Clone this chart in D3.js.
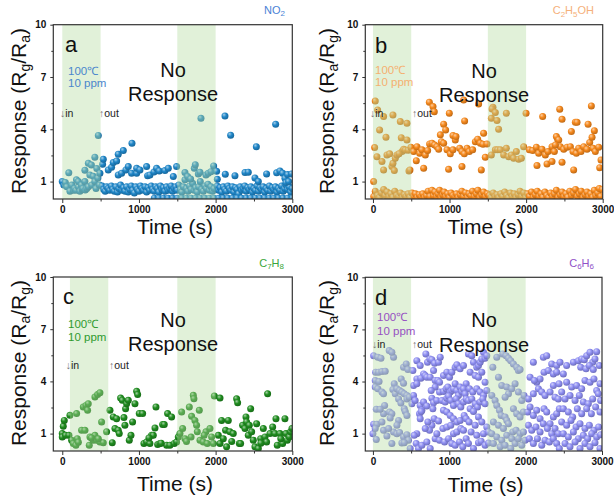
<!DOCTYPE html>
<html><head><meta charset="utf-8">
<script src="https://cdn.jsdelivr.net/npm/d3@7"></script>
<style>body{margin:0;background:#fff}svg{display:block}text{font-family:"Liberation Sans",Arial,sans-serif}</style>
</head><body><svg id="c" width="614" height="504"></svg>
<script>
// ---------- data ----------
const xTicks = [0, 1000, 2000, 3000];
const yTicks = [1, 4, 7, 10];
const shadeA = [[0, 500], [1500, 2000]];
const shadeB = [[0, 500], [1500, 2000]];
const shadeC = [[100, 600], [1500, 2000]];
const shadeD = [[0, 500], [1500, 2000]];

const dataA = [
[0,1.0],[20,0.8],[40,0.95],[60,0.7],[85,1.5],[100,0.45],[125,0.8],[145,0.5],[160,0.6],[180,0.5],[185,1.1],[210,0.7],[210,1.0],[230,0.45],[250,0.8],[260,0.55],[270,0.6],[295,1.0],[295,1.65],[300,0.52],[320,0.6],[340,2.05],[340,0.7],[360,1.38],[380,1.95],[385,0.8],[405,1.3],[425,2.4],[425,1.0],[440,0.6],[450,1.75],[465,1.2],[470,3.65],[485,0.8],
[520,0.75],[540,0.55],[560,0.45],[580,0.7],[600,0.6],[620,0.5],[640,0.75],[660,0.55],[680,0.45],[700,0.7],[720,0.4],[740,0.6],[760,0.8],[780,0.5],[800,0.65],[820,0.45],[840,0.7],[860,0.4],[880,0.55],[900,0.75],[920,0.5],[940,0.35],[960,0.7],[980,0.55],[1000,0.45],[1020,0.75],[1040,0.6],[1060,0.5],[1080,0.7],[1100,0.4],[1120,0.65],[1140,0.5],[1160,0.75],[1180,0.55],[1200,0.45],[1220,0.7],[1240,0.6],[1260,0.4],[1280,0.75],[1300,0.55],[1320,0.65],[1340,0.45],[1360,0.7],[1380,0.5],[1400,0.6],[1420,0.75],[1440,0.45],[1460,0.6],[1480,0.7],[1500,0.5],
[1520,0.8],[1540,0.55],[1560,0.4],[1580,0.7],[1600,1.1],[1620,0.6],[1640,0.45],[1660,0.75],[1680,0.55],[1700,0.9],[1720,0.5],[1740,0.65],[1760,0.4],[1780,0.7],[1800,1.0],[1820,0.55],[1840,0.45],[1860,0.75],[1880,0.6],[1900,0.85],[1920,0.5],[1940,0.7],[1960,0.45],[1980,0.6],
[2020,0.75],[2040,0.5],[2060,0.65],[2080,0.4],[2100,0.7],[2120,0.55],[2140,0.45],[2160,0.75],[2180,0.6],[2200,0.5],[2220,0.7],[2240,0.4],[2260,0.65],[2280,0.55],[2300,0.3],[2320,0.7],[2340,0.5],[2360,0.6],[2380,0.75],[2400,0.45],[2420,0.65],[2440,0.55],[2460,0.7],[2480,0.4],[2500,0.6],[2520,0.5],[2540,0.75],[2560,0.45],[2580,0.65],[2600,0.55],[2620,0.7],[2640,0.4],[2660,0.6],[2680,0.5],[2700,0.75],[2720,0.45],[2740,0.65],[2760,0.55],[2780,0.7],[2800,0.4],[2820,0.6],[2840,0.5],[2860,0.75],[2880,0.45],[2900,0.6],[2920,0.8],[2940,0.55],[2960,0.7],[2980,0.4],[3000,0.6],
[1200,0.05],[1260,0.05],[1320,0.05],[1380,0.05],[1440,0.05],[1500,0.05],[1560,0.05],[1620,0.05],[1680,0.05],[1740,0.05],[1800,0.05],[1860,0.05],[1920,0.05],[1980,0.05],[2040,0.05],[2100,0.05],[2160,0.05],[2220,0.05],[2280,0.05],[2340,0.05],[2400,0.05],[2460,0.05],[2520,0.05],[2580,0.05],[2640,0.05],[2700,0.05],[2760,0.05],[2820,0.05],[2880,0.05],[2940,0.05],[3000,0.05],
[491,1.48],[526,2.0],[535,2.28],[600,1.67],[643,1.82],[665,2.09],[709,2.18],[730,2.57],[730,1.38],[774,1.48],[796,2.78],[830,1.67],[861,1.86],[904,1.48],[909,3.2],[970,1.48],[970,1.76],[1013,1.67],[1100,1.86],[1113,1.34],[1143,1.38],[1196,1.55],[1230,1.76],[1265,1.61],[1339,1.63],[1383,1.76],[1448,1.29],[1491,1.86],
[1600,1.52],[1635,1.29],[1674,1.15],[1722,1.76],[1735,1.97],[1774,1.44],[1796,1.54],[1809,4.63],[1874,1.38],[1904,1.48],[1939,1.57],[1974,1.9],
[2013,1.59],[2022,1.13],[2122,4.76],[2126,1.42],[2196,3.66],[2252,1.34],[2383,1.52],[2426,1.54],[2513,1.21],[2531,3.0],[2557,1.0],[2665,1.44],[2783,4.29],[2796,1.5],[2839,1.61],[2874,1.48],[2904,1.19],[2917,0.94],[2939,1.4],[2952,1.0],[2991,1.44]
];

const dataB = [
[9,1.0],[22,2.95],[30,5.62],[52,2.43],[61,5.1],[87,3.96],[118,2.15],[139,4.73],[139,1.67],[170,3.54],[183,2.53],[218,2.59],[248,1.86],[261,4.82],[261,2.05],[279,1.63],[292,2.34],[313,2.53],[357,4.44],[370,3.52],[379,2.72],[401,2.85],[422,2.81],[444,4.34],[444,3.39],[470,1.61],[483,1.67],[460,2.8],[340,2.6],
[10,0.15],[30,0.45],[60,0.2],[85,0.1],[110,0.35],[140,0.55],[160,0.2],[185,0.4],[210,0.15],[235,0.3],[260,0.1],[285,0.45],[310,0.2],[335,0.15],[360,0.35],[385,0.1],[410,0.25],[435,0.15],[460,0.3],[485,0.1],[510,0.35],[535,0.15],[555,0.3],[580,0.1],[605,0.25],[630,0.15],[650,0.3],[675,0.1],[700,0.2],[720,0.45],[745,0.15],[770,0.5],[790,0.2],[810,0.4],[830,0.15],[850,0.3],[870,0.5],[890,0.1],[910,0.25],[930,0.4],[950,0.15],[975,0.3],[1000,0.1],[1020,0.35],[1045,0.2],[1070,0.15],[1090,0.3],[1115,0.1],[1140,0.25],[1160,0.45],[1185,0.15],[1210,0.35],[1235,0.1],[1255,0.3],[1280,0.2],[1300,0.45],[1325,0.15],[1350,0.3],[1370,0.5],[1395,0.1],[1420,0.25],[1445,0.4],[1470,0.15],[1495,0.3],[1520,0.2],[1545,0.1],[1570,0.35],[1595,0.15],[1620,0.25],[1645,0.1],[1670,0.3],[1695,0.15],[1720,0.4],[1745,0.2],[1770,0.1],[1795,0.35],[1820,0.15],[1845,0.3],[1870,0.1],[1895,0.25],[1920,0.45],[1945,0.15],[1970,0.35],[1995,0.1],[2020,0.3],[2045,0.15],[2070,0.4],[2095,0.1],[2120,0.25],[2145,0.45],[2170,0.15],[2195,0.3],[2220,0.1],[2245,0.4],[2270,0.2],[2295,0.1],[2320,0.35],[2345,0.15],[2370,0.3],[2395,0.5],[2420,0.1],[2445,0.25],[2470,0.4],[2495,0.15],[2520,0.3],[2545,0.1],[2570,0.45],[2595,0.2],[2620,0.35],[2645,0.55],[2670,0.15],[2695,0.3],[2720,0.45],[2745,0.1],[2770,0.25],[2795,0.4],[2820,0.15],[2845,0.3],[2870,0.1],[2890,0.5],[2910,0.2],[2935,0.35],[2955,0.6],[2975,0.15],[2995,0.55],
[496,2.97],[531,2.72],[575,3.0],[610,2.62],[640,2.82],[684,2.53],[714,2.78],[740,3.16],[771,3.2],[806,3.1],[836,3.0],[858,2.85],[893,3.29],[923,3.2],[967,2.82],[1010,2.59],[1045,2.82],[1075,3.39],[1132,2.91],[1162,2.72],[1193,2.59],[1228,2.91],[1258,2.72],[1302,2.82],[1337,3.29],[1367,3.43],[1402,3.2],[1437,3.14],[1489,3.16],
[1546,2.53],[1598,2.82],[1628,2.82],[1663,2.82],[1707,2.53],[1742,2.91],[1772,2.43],[1807,2.53],[1837,2.34],[1872,2.72],[1903,2.28],[1938,2.34],[1968,3.0],
[2042,2.82],[2086,2.78],[2134,2.97],[2164,2.62],[2208,2.85],[2251,2.53],[2286,2.72],[2338,3.0],[2369,2.72],[2412,3.43],[2447,3.0],[2491,2.85],[2534,2.97],[2578,3.0],[2612,2.72],[2656,2.62],[2686,2.91],[2717,2.72],[2752,3.0],[2795,2.85],[2830,3.24],[2874,2.91],[2904,2.72],[2948,2.97],
[736,5.55],[784,5.3],[801,5.01],[997,4.92],[1184,5.68],[1380,5.45],[1197,4.48],[923,4.29],[949,3.96],[880,3.68],[1045,3.64],[1084,3.58],[1445,3.77],[1546,4.63],[1567,5.26],[1555,5.17],[1598,4.96],[1620,4.5],[1641,4.0],[1742,4.92],[1999,4.92],[2216,4.73],[2469,4.57],[2439,5.15],[2591,3.87],[2643,4.4],[2665,4.4],[2852,5.34],[2809,4.29],[2891,3.92],[2861,3.54],[2395,3.58],[2426,3.39],[2382,3.1],
[566,2.2],[662,1.76],[988,1.7],[1162,1.86],[1415,1.67],[1467,2.39],[2142,1.92],[2273,2.01],[2338,2.15],[2469,2.11],[2621,1.67],[2961,1.8],[2978,2.24]
];

const dataC = [
[0,1.0],[13,1.42],[26,1.76],[0,0.8],[43,0.9],[87,0.9],[100,2.05],[122,0.62],[144,0.43],[178,0.33],[196,0.71],[187,2.15],[252,1.19],[274,2.53],[296,1.19],[309,2.62],[330,2.34],[339,2.72],[352,0.33],[361,0.81],[404,0.62],[426,0.9],[426,3.1],[461,3.24],[491,3.35],[448,0.62],[491,0.52],[513,1.67],[535,0.48],[578,1.1],[622,2.34],[652,0.48],[665,1.96],[687,1.29],[709,1.86],[730,1.19],[743,1.0],[761,3.04],[783,2.91],[804,1.92],[817,1.48],[826,2.43],[839,2.72],[861,2.91],[874,0.62],[896,0.9],[917,1.67],[948,2.72],[970,3.43],[983,3.24],[1004,2.15],[1048,2.15],[1065,0.43],[1100,0.52],[1143,0.43],[1165,0.9],[1187,0.9],[1209,1.32],[1222,2.53],[1244,0.37],[1274,0.43],[1309,1.52],[1330,1.52],[1361,0.33],[1374,2.15],[1404,0.33],[1426,1.96],[1461,0.43],[1491,0.52],[1513,0.81],[1535,1.0],[1557,2.24],[1570,1.29],[1600,0.71],[1657,2.53],[1687,1.99],[1709,3.2],[1717,3.0],[1730,1.76],[1752,1.48],[1761,1.1],[1787,2.34],[1796,0.62],[1839,0.52],[1874,1.1],[1891,0.43],[1926,1.29],[1948,0.81],[1970,0.43],[1983,3.16],[2057,3.04],[2035,0.9],[2057,0.43],[2078,1.76],[2100,0.71],[2130,1.19],[2143,0.24],[2165,1.76],[2187,1.1],[2230,1.0],[2274,3.0],[2287,2.78],[2309,0.43],[2326,0.43],[2352,1.48],[2383,1.29],[2396,1.96],[2404,1.67],[2426,0.9],[2439,1.48],[2457,2.43],[2470,1.1],[2491,0.62],[2513,0.24],[2535,1.57],[2557,0.14],[2587,0.71],[2622,1.29],[2644,0.81],[2665,0.52],[2678,3.29],[2709,1.0],[2744,1.38],[2774,1.0],[2787,1.86],[2804,0.33],[2839,1.0],[2874,0.43],[2904,1.86],[2917,1.0],[2935,0.62],[2961,0.81],[2978,1.1],[2996,1.29],
[210,0.5],[380,0.75],[470,0.7],[1130,0.75],[1290,0.45],[1620,0.55],[1680,0.8],[1850,0.9],[2210,0.55],[2590,0.45],[2850,0.7]
];

const dataD = [
[9,5.49],[65,5.4],[105,5.34],[30,4.06],[35,4.54],[74,4.54],[118,4.57],[161,4.59],[30,3.68],[65,3.58],[118,3.39],[139,3.29],[44,2.4],[9,1.54],[52,1.54],[0,1.0],[30,1.29],[118,1.67],[139,2.15],[153,2.62],[44,0.66],[183,0.87],[139,1.19],[80,4.0],[95,2.4],
[213,5.78],[270,5.4],[248,5.68],[279,3.87],[261,3.54],[292,3.29],[314,3.58],[349,3.48],[379,3.39],[410,3.29],[445,3.2],[401,4.82],[436,5.01],[458,4.69],[370,4.15],[401,3.9],[445,3.0],[475,3.1],[218,2.24],[248,2.15],[226,1.9],[336,3.0],[366,2.76],[410,2.43],[423,2.28],[445,2.05],[336,1.76],[314,1.48],[270,1.1],[205,1.29],[248,0.43],[314,1.0],[349,1.06],[401,0.81],[445,0.94],[466,0.62],[488,0.14],[379,0.46],[410,0.48],
[523,4.63],[575,5.2],[619,4.92],[663,4.44],[693,5.59],[715,5.11],[746,5.3],[772,5.26],[794,4.63],[807,5.05],[859,5.11],[881,5.4],[575,4.15],[628,4.19],[685,4.34],[706,4.25],[750,4.25],[815,4.06],[850,4.06],[872,3.96],[532,3.77],[575,3.87],[532,3.2],[510,2.72],[553,2.91],[619,2.62],[663,2.82],[641,2.34],[610,2.15],[632,2.28],[706,2.59],[772,3.04],[794,2.78],[837,2.91],[872,3.39],[815,3.68],[763,3.48],[785,2.43],[802,1.86],[859,1.73],[772,1.48],[719,1.67],[741,1.19],[685,1.29],[619,1.86],[575,1.0],[540,0.9],[567,0.43],[597,0.14],[641,0.33],[706,0.52],[750,0.14],[815,0.71],[837,1.0],[872,0.62],
[924,4.34],[968,4.54],[1003,4.25],[1033,4.54],[1077,4.82],[1099,4.96],[1142,4.73],[1186,4.92],[1221,3.87],[924,3.43],[959,3.58],[981,3.68],[1012,3.39],[1033,3.48],[1055,3.58],[1077,3.87],[1099,3.48],[1120,3.2],[1142,3.68],[1164,3.43],[1186,3.58],[1208,3.29],[903,2.91],[946,2.82],[968,3.04],[990,3.16],[1020,2.91],[1055,2.62],[1090,3.0],[1120,2.72],[1151,2.53],[1186,2.82],[1221,3.0],[924,2.34],[968,2.24],[1012,2.05],[1055,1.86],[1099,1.67],[1142,1.76],[1195,2.05],[1221,1.86],[916,1.29],[968,1.38],[1020,1.48],[1055,1.0],[1099,1.1],[1151,1.29],[1186,1.19],[938,0.52],[990,0.71],[1033,0.43],[1077,0.33],[1134,0.52],[1177,0.24],[1221,0.71],
[1251,5.59],[1295,5.49],[1317,5.11],[1360,4.82],[1382,4.92],[1404,5.11],[1426,5.3],[1448,5.68],[1469,5.34],[1491,5.49],[1273,4.54],[1339,4.34],[1382,4.25],[1426,4.54],[1469,3.96],[1264,3.58],[1308,3.39],[1360,3.58],[1404,3.39],[1448,3.2],[1491,3.48],[1251,2.91],[1295,3.0],[1339,2.72],[1369,2.53],[1404,2.82],[1439,3.0],[1469,2.72],[1273,2.43],[1317,2.28],[1260,1.67],[1382,1.96],[1339,1.48],[1426,1.67],[1491,1.38],[1286,1.1],[1360,0.9],[1448,1.0],[1513,1.1],[1251,0.43],[1317,0.14],[1382,0.48],[1417,0.56],[1469,0.33],[1513,0.46],
[1622,5.4],[1700,5.59],[1744,5.49],[1775,5.34],[1805,5.2],[1840,5.01],[1883,4.82],[1905,4.63],[1927,4.69],[1570,4.82],[1644,4.25],[1687,3.77],[1753,3.68],[1775,3.29],[1731,3.1],[1818,3.58],[1862,3.87],[1905,3.39],[1949,2.91],[1979,3.2],[1557,3.2],[1600,2.91],[1622,2.62],[1657,2.34],[1679,2.05],[1731,1.96],[1753,1.76],[1840,2.43],[1883,2.15],[1927,1.96],[1970,2.24],[1578,1.67],[1644,1.48],[1709,1.29],[1775,1.57],[1831,1.1],[1875,1.19],[1927,1.0],[1970,1.1],[1557,1.0],[1622,0.81],[1687,0.62],[1753,0.9],[1818,0.71],[1862,0.43],[1905,0.71],[1949,0.33],[1578,0.43],[1666,0.24],[1731,0.33],[1805,0.14],[1992,0.62],
[2101,5.11],[2232,5.4],[2276,5.49],[2341,5.01],[2407,4.92],[2450,5.11],[2145,3.96],[2189,4.15],[2241,4.54],[2298,4.63],[2363,4.44],[2407,4.54],[2363,3.77],[2437,3.87],[2058,4.25],[2115,4.06],[2036,3.0],[2101,3.29],[2167,3.58],[2211,3.39],[2254,3.2],[2320,3.39],[2385,3.1],[2428,3.0],[2027,2.24],[2058,2.53],[2101,2.05],[2145,2.34],[2189,1.86],[2241,2.43],[2276,2.24],[2320,1.57],[2363,1.96],[2407,2.15],[2441,2.43],[2036,1.48],[2080,1.19],[2136,1.38],[2189,1.1],[2232,1.57],[2285,1.29],[2341,1.0],[2385,1.29],[2428,1.0],[2049,0.71],[2101,0.43],[2154,0.71],[2211,0.33],[2254,0.62],[2311,0.52],[2363,0.71],[2407,0.43],[2441,0.14],
[2537,4.92],[2625,5.11],[2690,5.2],[2734,5.3],[2769,5.26],[2799,5.49],[2843,5.68],[2878,5.11],[2908,5.3],[2930,5.72],[2965,4.92],[2721,4.82],[2791,4.73],[2834,4.92],[2886,4.69],[2494,4.44],[2537,3.96],[2603,3.68],[2668,3.77],[2734,3.58],[2777,4.06],[2843,3.96],[2895,4.15],[2930,3.48],[2974,3.87],[2472,3.39],[2516,3.0],[2581,3.2],[2647,2.91],[2703,3.2],[2756,2.82],[2821,2.72],[2878,3.0],[2952,3.29],[2982,2.91],[2494,2.43],[2559,2.24],[2616,1.96],[2677,2.43],[2734,2.15],[2799,2.43],[2861,2.15],[2917,2.53],[2974,2.24],[2472,1.67],[2537,1.48],[2594,1.76],[2660,1.38],[2712,1.57],[2777,1.29],[2834,1.48],[2895,1.19],[2956,1.38],[2494,1.0],[2559,0.81],[2625,1.1],[2690,0.71],[2756,0.9],[2812,0.71],[2865,1.0],[2930,0.81],[2982,0.94],[2516,0.43],[2581,0.24],[2647,0.52],[2712,0.14],[2777,0.43],[2843,0.24],[2908,0.48],[2974,0.14]
];

// ---------- layout / style ----------
const panels = [
  {letter:"a", data:dataA, shade:shadeA, xMin:-117, L:53.3, R:292.3, T:24.7, B:199,
   col:"#1f86c8", lab:["NO",["2"]], labCol:"#4a82d6", tcCol:"#4a86cc", ratio:["g","a"],
   chem:[285,16], lx:[65,52], tc:[68,75,87.3], inout:[60,99,116.7], no:[173,77,100.5], ylab:[26,111], xlab:[175,234]},
  {letter:"b", data:dataB, shade:shadeB, xMin:-100, L:365.3, R:602.7, T:24.7, B:199,
   col:"#f5881c", lab:["C",["2"],"H",["5"],"OH"], labCol:"#f5b07a", tcCol:"#f5b070", ratio:["a","g"],
   chem:[594,16.5], lx:[375,52.5], tc:[375,73.5,86], inout:[370,412,117.3], no:[484,78,101.5], ylab:[334,111], xlab:[485.5,234]},
  {letter:"c", data:dataC, shade:shadeC, xMin:-117, L:53.3, R:292.3, T:277, B:451,
   col:"#1f8c1f", lab:["C",["7"],"H",["8"]], labCol:"#3aa63a", tcCol:"#2e9a2e", ratio:["a","g"],
   chem:[284,269], lx:[63,303.5], tc:[68,328,341], inout:[65.7,109,368.7], no:[173,327,351], ylab:[26,363], xlab:[175,491]},
  {letter:"d", data:dataD, shade:shadeD, xMin:-100, L:365.3, R:602, T:277.3, B:451,
   col:"#8f8ff2", lab:["C",["6"],"H",["6"]], labCol:"#9050c8", tcCol:"#9650c2", ratio:["a","g"],
   chem:[594,269], lx:[375,304.5], tc:[377,321.3,334.7], inout:[372,412,348], no:[484,327,352], ylab:[334,363], xlab:[485.5,492]}
];

const svg = d3.select("#c");
const defs = svg.append("defs");
const FONT = '"Liberation Sans",Arial,sans-serif';

panels.forEach((p, i) => {
  const x = d3.scaleLinear().domain([p.xMin, 3000]).range([p.L, p.R]);
  const y = d3.scaleLinear().domain([0, 10]).range([p.B, p.T]);
  const c = d3.color(p.col);
  const g = defs.append("radialGradient").attr("id", "grad" + i)
    .attr("cx", "40%").attr("cy", "38%").attr("r", "62%").attr("fx", "35%").attr("fy", "30%");
  g.append("stop").attr("offset", "0%").attr("stop-color", d3.interpolateRgb(p.col, "#fff")(0.6));
  g.append("stop").attr("offset", "50%").attr("stop-color", p.col);
  g.append("stop").attr("offset", "100%").attr("stop-color", c.darker(0.7));
  defs.append("clipPath").attr("id", "clip" + i).append("rect")
    .attr("x", p.L).attr("y", p.T).attr("width", p.R - p.L).attr("height", p.B - p.T);

  const pg = svg.append("g");
  // points
  pg.append("g").attr("clip-path", `url(#clip${i})`).selectAll("circle").data(p.data).join("circle")
    .attr("cx", d => x(d[0])).attr("cy", d => y(d[1])).attr("r", 3.5)
    .attr("fill", `url(#grad${i})`);
  // shaded windows (translucent overlay over points)
  pg.selectAll("rect.sh").data(p.shade).join("rect").attr("class", "sh")
    .attr("x", d => x(d[0])).attr("width", d => x(d[1]) - x(d[0]))
    .attr("y", p.T).attr("height", p.B - p.T)
    .attr("fill", "#b4dca0").attr("opacity", 0.4);

  // axes
  const xa = pg.append("g").attr("transform", `translate(0,${p.B})`)
    .call(d3.axisBottom(x).tickValues(xTicks).tickSize(4).tickPadding(3).tickFormat(d3.format("d")));
  pg.append("g").attr("transform", `translate(0,${p.B})`)
    .call(d3.axisBottom(x).tickValues([500, 1500, 2500]).tickSize(2.5).tickFormat(""))
    .call(s => s.select(".domain").remove());
  const ya = pg.append("g").attr("transform", `translate(${p.L},0)`)
    .call(d3.axisLeft(y).tickValues(yTicks).tickSize(3).tickPadding(4));
  pg.append("g").attr("transform", `translate(${p.L},0)`)
    .call(d3.axisLeft(y).tickValues([2.5, 5.5, 8.5]).tickSize(2).tickFormat(""))
    .call(s => s.select(".domain").remove());
  pg.selectAll(".domain").remove();
  pg.selectAll(".tick line").attr("stroke", "#333");
  [xa, ya].forEach(a => a.selectAll("text").attr("font-family", FONT).attr("font-size", 10)
    .attr("font-weight", "bold").attr("fill", "#111"));
  pg.append("rect").attr("x", p.L).attr("y", p.T).attr("width", p.R - p.L).attr("height", p.B - p.T)
    .attr("fill", "none").attr("stroke", "#333").attr("stroke-width", 1.2);

  // axis titles
  const yl = pg.append("text").attr("transform", `translate(${p.ylab[0]},${p.ylab[1]}) rotate(-90)`)
    .attr("text-anchor", "middle").attr("font-size", 21).attr("fill", "#111");
  yl.append("tspan").text("Response (R");
  yl.append("tspan").attr("font-size", 14).attr("dy", 4).text(p.ratio[0]);
  yl.append("tspan").attr("dy", -4).text("/R");
  yl.append("tspan").attr("font-size", 14).attr("dy", 4).text(p.ratio[1]);
  yl.append("tspan").attr("dy", -4).text(")");
  pg.append("text").attr("x", p.xlab[0]).attr("y", p.xlab[1]).attr("text-anchor", "middle")
    .attr("font-size", 21).attr("fill", "#111").text("Time (s)");

  // chemical label
  const ch = pg.append("text").attr("x", p.chem[0]).attr("y", p.chem[1]).attr("text-anchor", "end")
    .attr("font-size", 11).attr("fill", p.labCol);
  p.lab.forEach(part => {
    if (Array.isArray(part)) ch.append("tspan").attr("font-size", 8).attr("dy", 2.5).text(part[0]);
    else ch.append("tspan").attr("dy", ch.selectAll("tspan").size() ? -2.5 : 0).text(part);
  });

  // panel letter
  pg.append("text").attr("x", p.lx[0]).attr("y", p.lx[1]).attr("font-size", 22).attr("fill", "#111").text(p.letter);
  // condition
  pg.append("text").attr("x", p.tc[0]).attr("y", p.tc[1]).attr("font-size", 11.5).attr("fill", p.tcCol).text("100℃");
  pg.append("text").attr("x", p.tc[0]).attr("y", p.tc[2]).attr("font-size", 11.5).attr("fill", p.tcCol).text("10 ppm");
  // in / out markers
  const tin = pg.append("text").attr("x", p.inout[0]).attr("y", p.inout[2]).attr("font-size", 10.5).attr("fill", "#222");
  tin.append("tspan").attr("fill", "#777").text("↓");
  tin.append("tspan").text("in");
  const tout = pg.append("text").attr("x", p.inout[1]).attr("y", p.inout[2]).attr("font-size", 10.5).attr("fill", "#222");
  tout.append("tspan").attr("fill", "#777").text("↑");
  tout.append("tspan").text("out");
  // No Response
  pg.append("text").attr("x", p.no[0]).attr("y", p.no[1]).attr("text-anchor", "middle").attr("font-size", 20).attr("fill", "#111").text("No");
  pg.append("text").attr("x", p.no[0]).attr("y", p.no[2]).attr("text-anchor", "middle").attr("font-size", 20).attr("fill", "#111").text("Response");
});
svg.selectAll("text").attr("font-family", FONT);
</script></body></html>
